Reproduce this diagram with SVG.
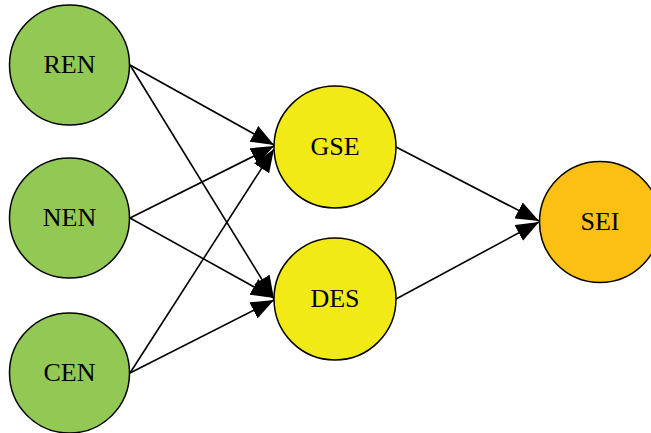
<svg xmlns="http://www.w3.org/2000/svg" width="651" height="433" viewBox="0 0 651 433">
<style>
.n circle{stroke:#000;stroke-width:1.5}
.g{fill:#92c954}
.y{fill:#f2ea17}
.o{fill:#fbc013}
.n text{font-family:"Liberation Serif",serif;font-size:26px;fill:#000;text-anchor:middle;dominant-baseline:central}
.e line{stroke:#000;stroke-width:1.6;marker-end:url(#ah)}
</style>
<defs>
<marker id="ah" markerUnits="userSpaceOnUse" markerWidth="24" markerHeight="18" refX="23" refY="9" orient="auto">
<path d="M0,0 L23,9 L0,18 z" fill="#000"/>
</marker>
</defs>
<rect width="651" height="433" fill="#fff"/>
<g id="connectors" class="e">
<line x1="130" y1="65" x2="274" y2="145"/>
<line x1="130" y1="65" x2="274" y2="299"/>
<line x1="130" y1="218" x2="274" y2="146"/>
<line x1="130" y1="218" x2="274" y2="298"/>
<line x1="130" y1="373" x2="274" y2="149"/>
<line x1="130" y1="373" x2="274" y2="300"/>
<line x1="396" y1="147" x2="539" y2="221"/>
<line x1="396" y1="299" x2="539" y2="222"/>
</g>
<g id="REN" class="n"><circle class="g" cx="69.5" cy="65" r="60"/><text x="69.5" y="64">REN</text></g>
<g id="NEN" class="n"><circle class="g" cx="69.5" cy="218" r="60"/><text x="69.5" y="217">NEN</text></g>
<g id="CEN" class="n"><circle class="g" cx="69.5" cy="373" r="60"/><text x="69.5" y="372">CEN</text></g>
<g id="GSE" class="n"><circle class="y" cx="335" cy="147" r="61"/><text x="335" y="146">GSE</text></g>
<g id="DES" class="n"><circle class="y" cx="335" cy="299" r="61"/><text x="335" y="298">DES</text></g>
<g id="SEI" class="n"><circle class="o" cx="600" cy="222" r="60.5"/><text x="600" y="221">SEI</text></g>
</svg>
